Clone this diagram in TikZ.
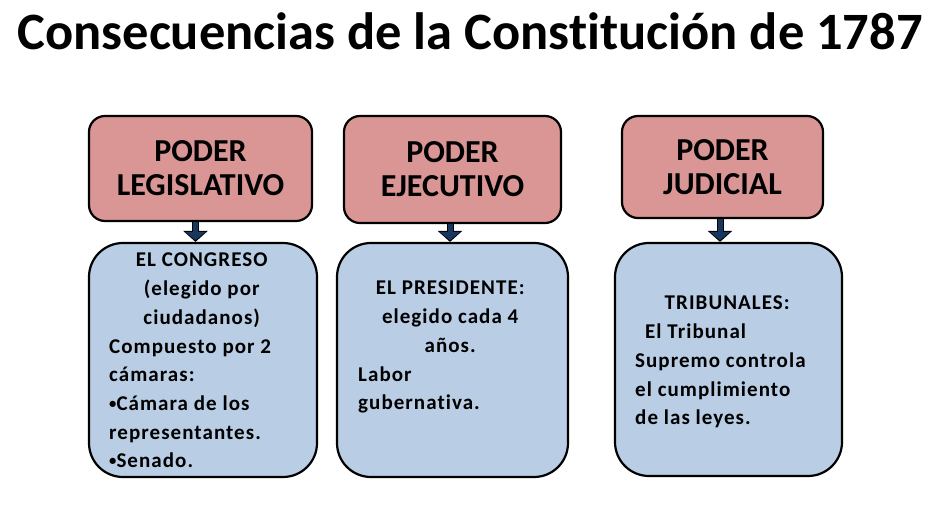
\documentclass[tikz,border=0pt]{standalone}
\usepackage{fontspec}
\setmainfont{Carlito}[Ligatures=NoCommon]
\newfontfamily\cajafont{Carlito}[Ligatures=NoCommon, LetterSpace=5]
\newcommand{\punto}{\raisebox{0.1em}{\scalebox{0.7}{•}}}
\usetikzlibrary{arrows.meta,positioning}
\definecolor{poderred}{HTML}{D99694}
\definecolor{cajablue}{HTML}{B9CDE5}
\definecolor{flechanavy}{HTML}{17375E}

\begin{document}
\begin{tikzpicture}[x=1pt, y=-1pt, every node/.style={font=\bfseries}]
\tikzset{poder/.style={draw=black, line width=2.2pt, rounded corners=16pt, fill=poderred, align=center, inner sep=0pt, font=\fontsize{32}{34}\selectfont\bfseries}}
\tikzset{caja/.style={draw=black, line width=2.2pt, rounded corners=34pt, fill=cajablue}}
\tikzset{flecha/.style={line width=7pt, black, -{Triangle[width=24pt,length=11pt]}}}
\tikzset{flechain/.style={line width=5pt, flechanavy, shorten >=1.6pt, -{Triangle[width=20pt,length=8.5pt]}}}
\tikzset{texto/.style={anchor=base west, inner sep=0pt, font=\cajafont\fontsize{21}{28.7}\selectfont\bfseries}}

\useasboundingbox (0,0) rectangle (951,510);

% title
\node[anchor=base, font=\fontsize{52.5}{56}\selectfont\bfseries] (titulo) at (470,50) {Consecuencias de la Constitución de 1787};

% the three powers
\node[poder, minimum width=223pt, minimum height=105pt] (leg) at (200.5,168.5) {PODER\\LEGISLATIVO};
\node[poder, minimum width=217pt, minimum height=107pt] (eje) at (452.5,169.5) {PODER\\EJECUTIVO};
\node[poder, minimum width=201pt, minimum height=102pt] (jud) at (722.5,167) {PODER\\JUDICIAL};

% boxes below
\node[caja, minimum width=228pt, minimum height=234pt] (congreso) at (203,360) {};
\node[caja, minimum width=231pt, minimum height=234pt] (presidente) at (452.5,360) {};
\node[caja, minimum width=227pt, minimum height=233pt] (tribunales) at (728.5,359.5) {};

% arrows
\draw[flecha] ([xshift=-5pt]leg.south) -- ([xshift=-5pt]leg.south |- congreso.north);
\draw[flechain] ([xshift=-5pt]leg.south) -- ([xshift=-5pt]leg.south |- congreso.north);
\draw[flecha] ([xshift=-2.5pt]eje.south) -- ([xshift=-2.5pt]eje.south |- presidente.north);
\draw[flechain] ([xshift=-2.5pt]eje.south) -- ([xshift=-2.5pt]eje.south |- presidente.north);
\draw[flecha] ([xshift=-2.5pt]jud.south) -- ([xshift=-2.5pt]jud.south |- tribunales.north);
\draw[flechain] ([xshift=-2.5pt]jud.south) -- ([xshift=-2.5pt]jud.south |- tribunales.north);

% texts in the boxes
\node[texto] (tcongreso) at (109,267) {\begin{tabular}[t]{@{}p{185pt}@{}}
\multicolumn{1}{@{}c@{}}{EL CONGRESO}\\
\multicolumn{1}{@{}c@{}}{(elegido por}\\
\multicolumn{1}{@{}c@{}}{ciudadanos)}\\
Compuesto por 2\\
cámaras:\\
\punto Cámara de los\\
representantes.\\
\punto Senado.
\end{tabular}};
\node[texto] (tpresidente) at (358,295) {\begin{tabular}[t]{@{}p{184pt}@{}}
\multicolumn{1}{@{}c@{}}{EL PRESIDENTE:}\\
\multicolumn{1}{@{}c@{}}{elegido cada 4}\\
\multicolumn{1}{@{}c@{}}{años.}\\
Labor\\
gubernativa.
\end{tabular}};
\node[texto] (ttribunales) at (635,310) {\begin{tabular}[t]{@{}p{184pt}@{}}
\multicolumn{1}{@{}c@{}}{TRIBUNALES:}\\
\hspace{10pt}El Tribunal\\
Supremo controla\\
el cumplimiento\\
de las leyes.
\end{tabular}};
\end{tikzpicture}
\end{document}
